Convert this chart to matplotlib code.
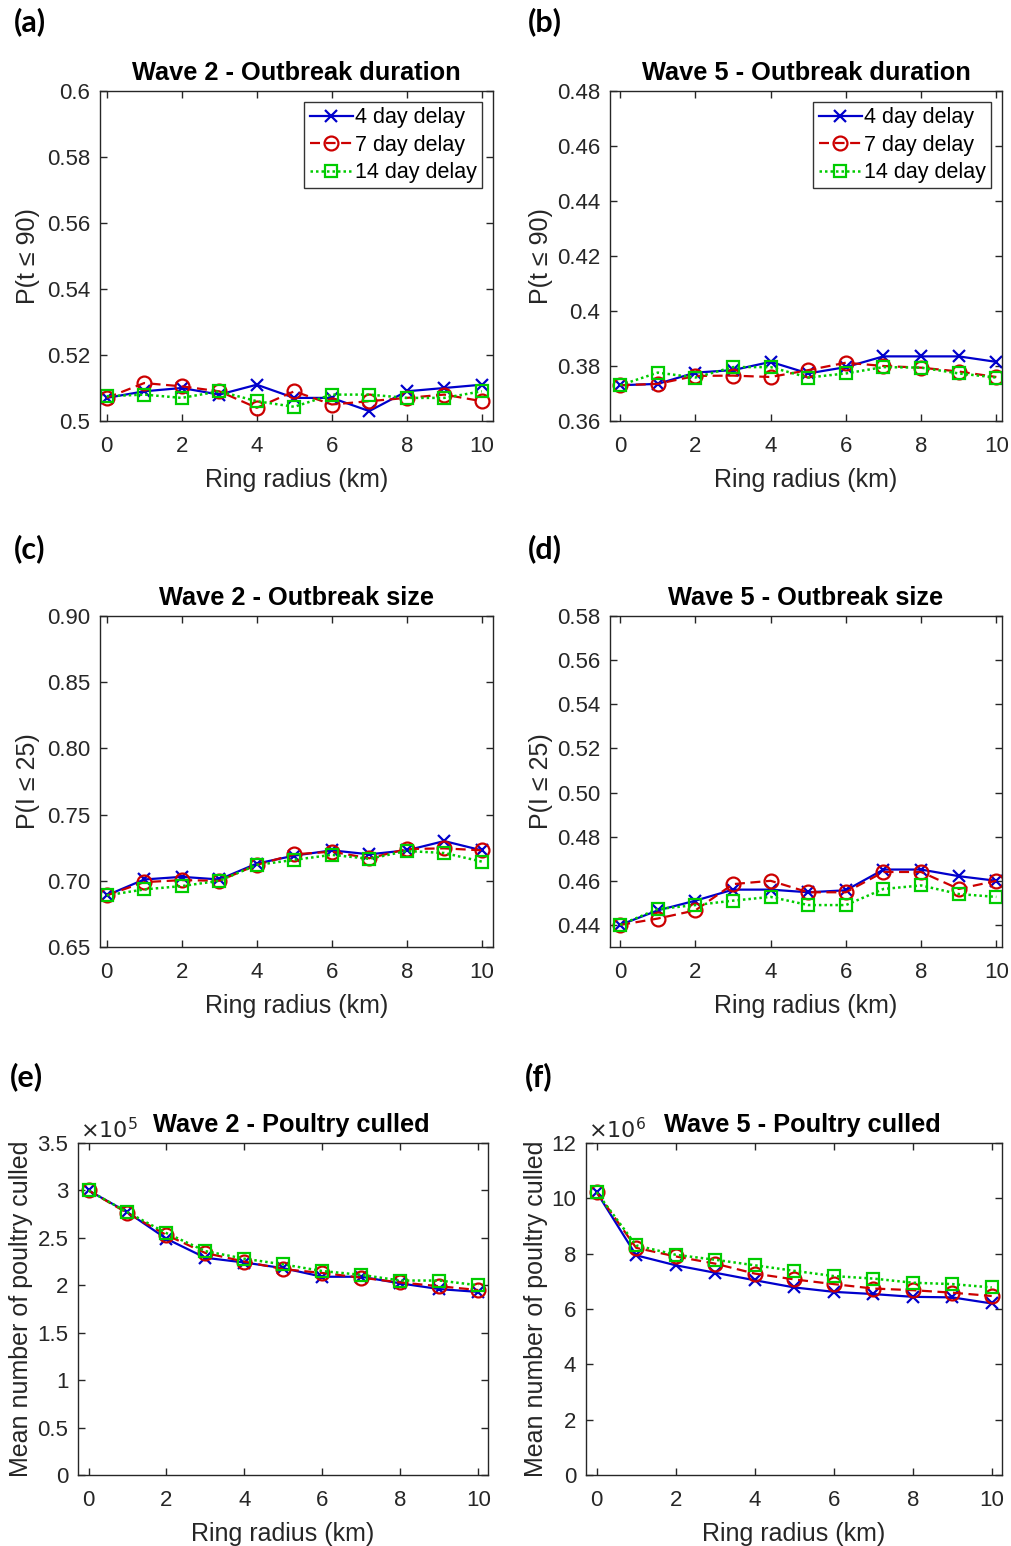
import numpy as np
import matplotlib
matplotlib.use("Agg")
import matplotlib.pyplot as plt
from matplotlib.ticker import FuncFormatter, FixedLocator

plt.rcParams['font.family'] = ['Liberation Sans', 'DejaVu Sans']

radius = [0, 1, 2, 3, 4, 5, 6, 7, 8, 9, 10]
labels = ['4 day delay', '7 day delay', '14 day delay']

# (a) Wave 2 - Outbreak duration, P(t <= 90)
a_d4 = [0.507, 0.509, 0.510, 0.508, 0.511, 0.507, 0.507, 0.503, 0.509, 0.510, 0.511]
a_d7 = [0.507, 0.5115, 0.5105, 0.509, 0.504, 0.509, 0.505, 0.506, 0.507, 0.508, 0.506]
a_d14 = [0.5075, 0.508, 0.507, 0.509, 0.506, 0.5043, 0.508, 0.508, 0.507, 0.507, 0.509]

# (b) Wave 5 - Outbreak duration
b_d4 = [0.373, 0.3735, 0.3776, 0.3785, 0.3815, 0.3773, 0.3796, 0.3835, 0.3835, 0.3835, 0.3815]
b_d7 = [0.373, 0.3735, 0.3764, 0.3765, 0.376, 0.3785, 0.3812, 0.380, 0.3794, 0.378, 0.376]
b_d14 = [0.373, 0.3776, 0.3758, 0.3796, 0.3796, 0.3758, 0.3773, 0.3796, 0.3794, 0.3773, 0.3758]

# (c) Wave 2 - Outbreak size, P(I <= 25)
c_d4 = [0.689, 0.701, 0.703, 0.701, 0.713, 0.719, 0.723, 0.720, 0.723, 0.730, 0.723]
c_d7 = [0.689, 0.699, 0.7005, 0.7, 0.712, 0.720, 0.722, 0.717, 0.724, 0.7245, 0.723]
c_d14 = [0.689, 0.6935, 0.696, 0.700, 0.712, 0.7158, 0.7196, 0.7166, 0.7225, 0.721, 0.7145]

# (d) Wave 5 - Outbreak size
d_d4 = [0.440, 0.4466, 0.451, 0.456, 0.456, 0.4548, 0.4557, 0.4651, 0.4651, 0.4621, 0.460]
d_d7 = [0.440, 0.4429, 0.4466, 0.4585, 0.460, 0.4548, 0.4548, 0.464, 0.464, 0.4563, 0.460]
d_d14 = [0.440, 0.4472, 0.449, 0.451, 0.4527, 0.449, 0.449, 0.4563, 0.4579, 0.454, 0.4527]

# (e) Wave 2 - Poultry culled
e_d4 = [3.00e5, 2.77e5, 2.49e5, 2.29e5, 2.24e5, 2.18e5, 2.09e5, 2.09e5, 2.02e5, 1.96e5, 1.93e5]
e_d7 = [3.00e5, 2.76e5, 2.53e5, 2.34e5, 2.25e5, 2.17e5, 2.13e5, 2.08e5, 2.03e5, 1.99e5, 1.95e5]
e_d14 = [3.00e5, 2.77e5, 2.55e5, 2.36e5, 2.28e5, 2.22e5, 2.15e5, 2.11e5, 2.05e5, 2.05e5, 2.00e5]

# (f) Wave 5 - Poultry culled
f_d4 = [10.22e6, 7.94e6, 7.58e6, 7.31e6, 7.04e6, 6.78e6, 6.62e6, 6.54e6, 6.44e6, 6.42e6, 6.20e6]
f_d7 = [10.22e6, 8.21e6, 7.90e6, 7.64e6, 7.28e6, 7.07e6, 6.90e6, 6.74e6, 6.68e6, 6.59e6, 6.47e6]
f_d14 = [10.22e6, 8.30e6, 7.96e6, 7.78e6, 7.58e6, 7.38e6, 7.19e6, 7.10e6, 6.95e6, 6.90e6, 6.78e6]

W, H = 1011, 1546
fig = plt.figure(figsize=(W / 100, H / 100), dpi=100)

DARK = '#262626'
BLUE = '#0000cc'
RED = '#cc0000'
GREEN = '#00cc00'

TICK_FS = 16
LABEL_FS = 18
TITLE_FS = 18.3
LEG_FS = 15.5


def make_ax(l, r, t, b):
    return fig.add_axes([l / W, 1 - b / H, (r - l) / W, (b - t) / H])


def style(ax, series, title, ylabel, ylim, yticks, yfmt, xlim, ylab_x, legend=False,
          scale=None):
    d4, d7, d14 = series
    ax.plot(radius, d4, color=BLUE, ls='-', lw=1.6, marker='x', ms=9, mew=1.6,
            label=labels[0])
    ax.plot(radius, d7, color=RED, ls=(0, (4.5, 2.5)), lw=1.6, marker='o', ms=10,
            mfc='none', mew=1.6, label=labels[1])
    ax.plot(radius, d14, color=GREEN, ls=(0, (1, 1.2)), lw=1.8, marker='s', ms=9,
            mfc='none', mew=1.6, label=labels[2])
    ax.set_xlim(*xlim)
    ax.set_ylim(*ylim)
    ax.xaxis.set_major_locator(FixedLocator([0, 2, 4, 6, 8, 10]))
    ax.yaxis.set_major_locator(FixedLocator(yticks))
    ax.yaxis.set_major_formatter(FuncFormatter(yfmt))
    ax.tick_params(direction='in', top=True, right=True, length=5, width=1,
                   colors=DARK, labelsize=TICK_FS, labelcolor=DARK)
    ax.tick_params(axis='x', pad=11)
    ax.tick_params(axis='y', pad=7)
    for s in ax.spines.values():
        s.set_color(DARK)
        s.set_linewidth(1.0)
    ax.set_title(title, fontsize=TITLE_FS, fontweight='bold', pad=8)
    ax.set_xlabel('Ring radius (km)', fontsize=LABEL_FS, color=DARK, labelpad=8)
    ax.set_ylabel(ylabel, fontsize=LABEL_FS, color=DARK)
    ax.yaxis.set_label_coords(ylab_x, 0.5)
    if legend:
        leg = ax.legend(loc='upper right', fontsize=LEG_FS, frameon=True, fancybox=False,
                        edgecolor='black', handlelength=2.0, handletextpad=0.1,
                        borderpad=0.25, labelspacing=0.3, borderaxespad=0.5)
        leg.get_frame().set_linewidth(1.0)
    if scale is not None:
        ax.text(0.005, 1.003, r'$\times10^{%d}$' % scale, transform=ax.transAxes,
                fontsize=16, color=DARK, ha='left', va='bottom',
                fontfamily='DejaVu Sans')


fmt_plain = lambda v, p: ('%g' % round(v, 4))
fmt_2 = lambda v, p: '%.2f' % v

# (a)
ax = make_ax(100, 493, 91, 421)
style(ax, (a_d4, a_d7, a_d14), 'Wave 2 - Outbreak duration', 'P(t \u2264 90)',
      (0.5, 0.6), np.arange(0.5, 0.601, 0.02), fmt_plain, (-0.18, 10.3),
      (40 - 100) / 393, legend=True)
# (b)
ax = make_ax(610, 1002, 91, 421)
style(ax, (b_d4, b_d7, b_d14), 'Wave 5 - Outbreak duration', 'P(t \u2264 90)',
      (0.36, 0.48), np.arange(0.36, 0.481, 0.02), fmt_plain, (-0.27, 10.15),
      (553 - 610) / 392, legend=True)
# (c)
ax = make_ax(100, 493, 616, 947)
style(ax, (c_d4, c_d7, c_d14), 'Wave 2 - Outbreak size', 'P(I \u2264 25)',
      (0.65, 0.90), np.arange(0.65, 0.901, 0.05), fmt_2, (-0.18, 10.3),
      (40 - 100) / 393)
# (d)
ax = make_ax(610, 1002, 616, 947)
style(ax, (d_d4, d_d7, d_d14), 'Wave 5 - Outbreak size', 'P(I \u2264 25)',
      (0.43, 0.58), np.arange(0.44, 0.581, 0.02), fmt_2, (-0.27, 10.15),
      (553 - 610) / 392)
# (e)
ax = make_ax(78, 488, 1143, 1475)
style(ax, (e_d4, e_d7, e_d14), 'Wave 2 - Poultry culled',
      'Mean number of poultry culled', (0, 3.5e5), np.arange(0, 3.51e5, 0.5e5),
      lambda v, p: '%g' % (v / 1e5), (-0.27, 10.25), (33 - 78) / 410, scale=5)
ax.title.set_position((0.52, 1.0))
# (f)
ax = make_ax(586, 1002, 1143, 1475)
style(ax, (f_d4, f_d7, f_d14), 'Wave 5 - Poultry culled',
      'Mean number of poultry culled', (0, 12e6), np.arange(0, 12.1e6, 2e6),
      lambda v, p: '%g' % (v / 1e6), (-0.27, 10.26), (548 - 586) / 416, scale=6)
ax.title.set_position((0.52, 1.0))

# panel letters
for txt, x, y in [('(a)', 14, 22), ('(b)', 528, 22), ('(c)', 14, 549),
                  ('(d)', 528, 549), ('(e)', 10, 1077), ('(f)', 525, 1077)]:
    fig.text(x / W, 1 - y / H, txt, fontsize=22, fontweight='bold',
             fontfamily='Lato', ha='left', va='center', color='black')

fig.savefig('out.png', dpi=100)
